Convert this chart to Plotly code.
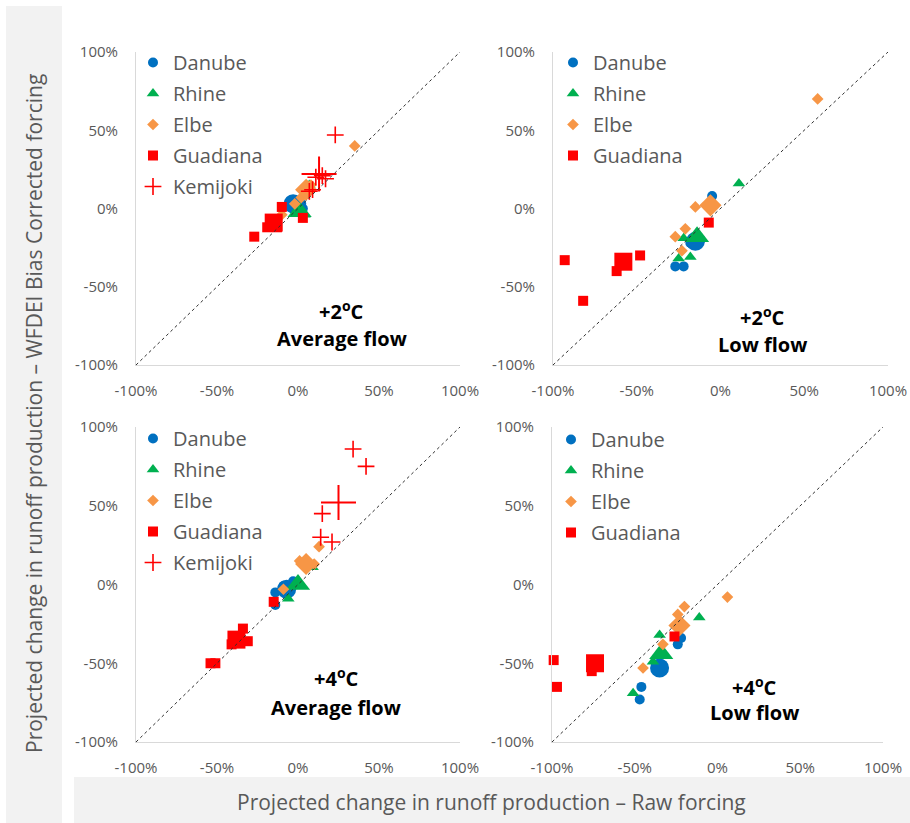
import plotly.graph_objects as go

# ---------------- DATA (values in %) ----------------
# Panel A: +2 C, average flow
A_danube_x = [-5, -1, 2, 3]
A_danube_y = [1, 5, 3, 0]
A_danube_mean = [-3, 3]
A_rhine_x = [7, 4, 0]
A_rhine_y = [15, -4, 0]
A_rhine_mean = [1, -2]
A_elbe_x = [35, 8, 2, -2, -10]
A_elbe_y = [40, 15, 7, 3, -4]
A_elbe_mean = [5, 12]
A_guadiana_x = [-10, 3, -27, -19, -14, -13]
A_guadiana_y = [1, -6, -18, -12, -8, -12]
A_guadiana_mean = [-15, -9]
A_kemijoki_x = [23, 17, 7, 9, 11, 15]
A_kemijoki_y = [47, 19, 11, 12, 20, 21]
A_kemijoki_mean = [13, 22]

# Panel B: +2 C, low flow
B_danube_x = [-5, -27, -22, -18, -12]
B_danube_y = [8, -37, -37, -22, -20]
B_danube_mean = [-15, -21]
B_rhine_x = [11, -22, -25, -18]
B_rhine_y = [16, -19, -32, -31]
B_rhine_mean = [-14, -18]
B_elbe_x = [58, -15, -21, -27, -23]
B_elbe_y = [70, 1, -13, -18, -27]
B_elbe_mean = [-6, 2]
B_guadiana_x = [-7, -93, -82, -48, -62]
B_guadiana_y = [-9, -33, -59, -30, -40]
B_guadiana_mean = [-58, -34]

# Panel C: +4 C, average flow
C_danube_x = [-14, -14, -3, -9]
C_danube_y = [-5, -13, 2, -1]
C_danube_mean = [-7, -3]
C_rhine_x = [-6, 9]
C_rhine_y = [-9, 11]
C_rhine_mean = [0, 0]
C_elbe_x = [13, 1, 6, 10, 4, -9]
C_elbe_y = [24, 15, 14, 13, 12, -3]
C_elbe_mean = [5, 13]
C_guadiana_x = [-15, -34, -31, -41, -54, -51]
C_guadiana_y = [-11, -28, -36, -38, -50, -50]
C_guadiana_mean = [-38, -35]
C_kemijoki_x = [34, 42, 15, 14, 21]
C_kemijoki_y = [86, 75, 45, 30, 27]
C_kemijoki_mean = [25, 52]

# Panel D: +4 C, low flow
D_danube_x = [-22, -24, -46, -47]
D_danube_y = [-34, -38, -65, -73]
D_danube_mean = [-35, -53]
D_rhine_x = [-11, -35, -39, -51]
D_rhine_y = [-21, -32, -49, -69]
D_rhine_mean = [-34, -44]
D_elbe_x = [6, -20, -24, -33, -45]
D_elbe_y = [-8, -14, -19, -38, -53]
D_elbe_mean = [-23, -26]
D_guadiana_x = [-26, -99, -97, -76]
D_guadiana_y = [-33, -48, -65, -55]
D_guadiana_mean = [-74, -50]

tick_vals = [-100, -50, 0, 50, 100]
tick_text = ["-100%", "-50%", "0%", "50%", "100%"]

river_names = ["Danube", "Rhine", "Elbe", "Guadiana", "Kemijoki"]

panel_data = {
    "A": {
        "Danube": (A_danube_x, A_danube_y, A_danube_mean),
        "Rhine": (A_rhine_x, A_rhine_y, A_rhine_mean),
        "Elbe": (A_elbe_x, A_elbe_y, A_elbe_mean),
        "Guadiana": (A_guadiana_x, A_guadiana_y, A_guadiana_mean),
        "Kemijoki": (A_kemijoki_x, A_kemijoki_y, A_kemijoki_mean),
    },
    "B": {
        "Danube": (B_danube_x, B_danube_y, B_danube_mean),
        "Rhine": (B_rhine_x, B_rhine_y, B_rhine_mean),
        "Elbe": (B_elbe_x, B_elbe_y, B_elbe_mean),
        "Guadiana": (B_guadiana_x, B_guadiana_y, B_guadiana_mean),
    },
    "C": {
        "Danube": (C_danube_x, C_danube_y, C_danube_mean),
        "Rhine": (C_rhine_x, C_rhine_y, C_rhine_mean),
        "Elbe": (C_elbe_x, C_elbe_y, C_elbe_mean),
        "Guadiana": (C_guadiana_x, C_guadiana_y, C_guadiana_mean),
        "Kemijoki": (C_kemijoki_x, C_kemijoki_y, C_kemijoki_mean),
    },
    "D": {
        "Danube": (D_danube_x, D_danube_y, D_danube_mean),
        "Rhine": (D_rhine_x, D_rhine_y, D_rhine_mean),
        "Elbe": (D_elbe_x, D_elbe_y, D_elbe_mean),
        "Guadiana": (D_guadiana_x, D_guadiana_y, D_guadiana_mean),
    },
}

panel_labels = {
    "A": ("+2<sup>o</sup>C", "Average flow"),
    "B": ("+2<sup>o</sup>C", "Low flow"),
    "C": ("+4<sup>o</sup>C", "Average flow"),
    "D": ("+4<sup>o</sup>C", "Low flow"),
}

# ---------------- STYLE / LAYOUT ----------------
W, H = 910, 823
FONT = "Open Sans"
GRAY = "#595959"

styles = {
    "Danube": dict(symbol="circle", color="#0070C0", size=10, big=19),
    "Rhine": dict(symbol="triangle-up", color="#00B050", size=11, big=21),
    "Elbe": dict(symbol="diamond", color="#F79646", size=9, big=17),
    "Guadiana": dict(symbol="square", color="#FF0000", size=10, big=18),
    "Kemijoki": dict(symbol="cross-thin", color="#FF0000", size=12, big=25),
}

# pixel boxes: (left, right, top, bottom)
boxes = {
    "A": (136, 460, 52, 365),
    "B": (553, 888, 52, 365),
    "C": (136, 460, 427, 742),
    "D": (552, 883, 427, 742),
}
axis_ids = {"A": ("x", "y"), "B": ("x2", "y2"), "C": ("x3", "y3"), "D": ("x4", "y4")}
legend_ids = {"A": "legend", "B": "legend2", "C": "legend3", "D": "legend4"}
legend_pos = {"A": (133, 43), "B": (553, 43), "C": (133, 419), "D": (551, 420)}
label_pos = {"A": (27, -65, -83), "B": (25, -69, -87), "C": (23.5, -59, -78), "D": (22.6, -64.5, -81)}


def px_x(p):
    return p / W


def px_y(p):
    return 1 - p / H


fig = go.Figure()

for key, rivers in panel_data.items():
    xa, ya = axis_ids[key]
    for name in river_names:
        if name not in rivers:
            continue
        xs, ys, mean = rivers[name]
        st = styles[name]
        line = dict(width=1.6, color=st["color"]) if st["symbol"] == "cross-thin" else dict(width=0)
        fig.add_trace(go.Scatter(
            x=xs, y=ys, mode="markers", name=name,
            xaxis=xa, yaxis=ya, legend=legend_ids[key],
            legendgroup=key + name, cliponaxis=False,
            marker=dict(symbol=st["symbol"], color=st["color"], size=st["size"], line=line),
        ))
        bigline = dict(width=2, color=st["color"]) if st["symbol"] == "cross-thin" else dict(width=0)
        fig.add_trace(go.Scatter(
            x=[mean[0]], y=[mean[1]], mode="markers", name=name + " mean",
            xaxis=xa, yaxis=ya, showlegend=False, legendgroup=key + name, cliponaxis=False,
            marker=dict(symbol=st["symbol"], color=st["color"], size=st["big"], line=bigline),
        ))

layout = dict(
    width=W, height=H,
    margin=dict(l=0, r=0, t=0, b=0, pad=0, autoexpand=False),
    paper_bgcolor="white", plot_bgcolor="white",
    font=dict(family=FONT, color=GRAY),
    shapes=[], annotations=[],
)

for key in boxes:
    l, r, t, b = boxes[key]
    xa, ya = axis_ids[key]
    xname = "xaxis" + xa[1:]
    yname = "yaxis" + ya[1:]
    common = dict(range=[-100, 100], tickvals=tick_vals, ticktext=tick_text,
                  showgrid=False, zeroline=False, showline=True, linecolor="#d9d9d9",
                  linewidth=1, ticks="", tickfont=dict(size=15, color=GRAY, family=FONT),
                  fixedrange=True, automargin=False)
    layout[xname] = dict(common, domain=[px_x(l), px_x(r)], anchor=ya, ticklabelstandoff=12)
    layout[yname] = dict(common, domain=[px_y(b), px_y(t)], anchor=xa, ticklabelstandoff=14)
    # 1:1 line
    layout["shapes"].append(dict(type="line", xref=xa, yref=ya, x0=-100, y0=-100, x1=100, y1=100,
                                 line=dict(color="#303030", width=1, dash="dot")))
    lx, ly = legend_pos[key]
    layout[legend_ids[key]] = dict(
        x=px_x(lx), y=px_y(ly), xanchor="left", yanchor="top",
        bgcolor="rgba(0,0,0,0)", font=dict(size=20, color=GRAY, family=FONT),
        tracegroupgap=2, traceorder="grouped", itemclick=False,
    )
    ax, ay1, ay2 = label_pos[key]
    l1, l2 = panel_labels[key]
    for txt, yy in ((l1, ay1), (l2, ay2)):
        layout["annotations"].append(dict(
            x=ax, y=yy, xref=xa, yref=ya, text="<b>" + txt + "</b>", showarrow=False,
            font=dict(size=20, color="black", family=FONT), xanchor="center", yanchor="middle",
        ))

# gray title boxes
layout["shapes"].append(dict(type="rect", xref="paper", yref="paper", layer="below",
                             x0=px_x(6), x1=px_x(62), y0=px_y(830), y1=px_y(6),
                             fillcolor="#f2f2f2", line=dict(width=0)))
layout["shapes"].append(dict(type="rect", xref="paper", yref="paper", layer="below",
                             x0=px_x(74), x1=px_x(915), y0=px_y(830), y1=px_y(777),
                             fillcolor="#f2f2f2", line=dict(width=0)))

layout["annotations"].append(dict(
    x=px_x(34), y=px_y(414), xref="paper", yref="paper", showarrow=False, textangle=-90,
    text="Projected change in runoff production \u2013 WFDEI Bias Corrected forcing",
    font=dict(size=21, color=GRAY, family=FONT), xanchor="center", yanchor="middle",
))
layout["annotations"].append(dict(
    x=px_x(492), y=px_y(802), xref="paper", yref="paper", showarrow=False,
    text="Projected change in runoff production \u2013 Raw forcing",
    font=dict(size=21, color=GRAY, family=FONT), xanchor="center", yanchor="middle",
))

fig.update_layout(**layout)
fig.write_html(
    "out.html",
    config={"displayModeBar": False},
    post_script="document.body.style.margin='0';document.body.style.overflow='hidden';",
)
